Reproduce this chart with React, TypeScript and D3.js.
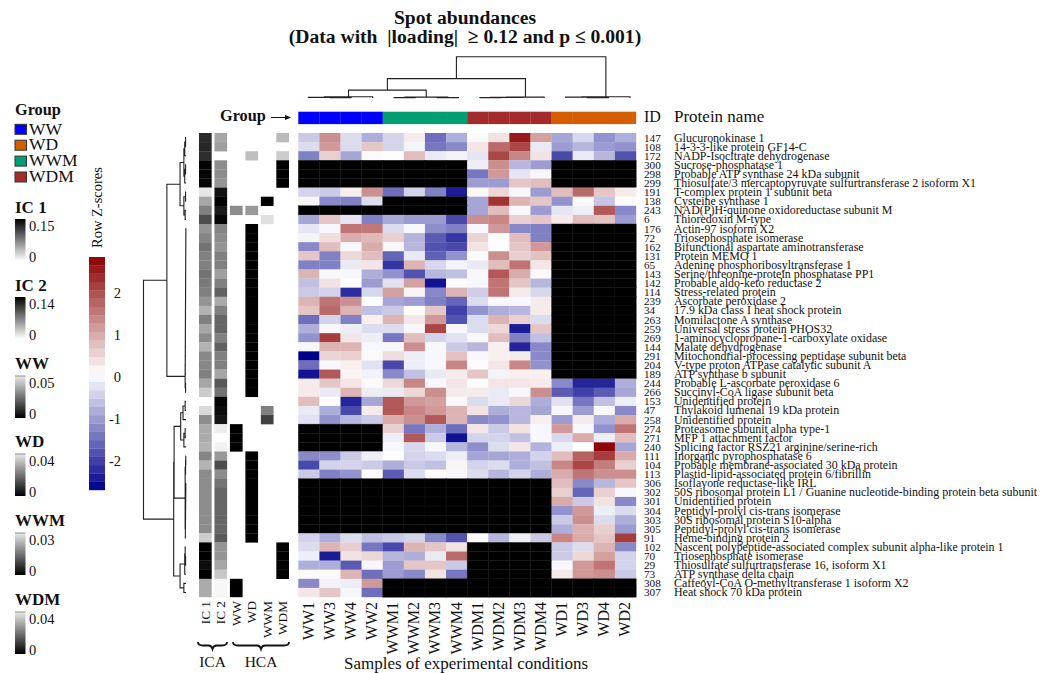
import * as d3 from "d3"

const FONT = "'Liberation Serif', serif"
const N = null

// sample columns, in heatmap order
const samples = ["WW1", "WW3", "WW4", "WW2", "WWM1", "WWM2", "WWM3", "WWM4", "WDM1", "WDM2", "WDM3", "WDM4", "WD1", "WD3", "WD4", "WD2"]
const sampleGroups = ["WW", "WW", "WW", "WW", "WWM", "WWM", "WWM", "WWM", "WDM", "WDM", "WDM", "WDM", "WD", "WD", "WD", "WD"]
const groupNames = ["WW", "WD", "WWM", "WDM"]
const groupColors = ["#0000ff", "#d55e00", "#009e73", "#a52a2a"]

const spotIds = [147, 108, 172, 300, 298, 299, 191, 138, 243, 6, 176, 72, 162, 131, 65, 143, 142, 114, 239, 34, 263, 259, 269, 144, 291, 204, 189, 244, 266, 153, 47, 258, 274, 271, 240, 111, 104, 113, 306, 302, 301, 304, 303, 305, 91, 102, 70, 29, 73, 308, 307]

const proteinNames = [
  "Glucuronokinase 1",
  "14-3-3-like protein GF14-C",
  "NADP-Isocitrate dehydrogenase",
  "Sucrose-phosphatase 1",
  "Probable ATP synthase 24 kDa subunit",
  "Thiosulfate/3 mercaptopyruvate sulfurtransferase 2 isoform X1",
  "T-complex protein 1 subunit beta",
  "Cysteine synthase 1",
  "NAD(P)H-quinone oxidoreductase subunit M",
  "Thioredoxin M-type",
  "Actin-97 isoform X2",
  "Triosephosphate isomerase",
  "Bifunctional aspartate aminotransferase",
  "Protein MEMO 1",
  "Adenine phosphoribosyltransferase 1",
  "Serine/threonine-protein phosphatase PP1",
  "Probable aldo-keto reductase 2",
  "Stress-related protein",
  "Ascorbate peroxidase 2",
  "17.9 kDa class I heat shock protein",
  "Momilactone A synthase",
  "Universal stress protein PHOS32",
  "1-aminocyclopropane-1-carboxylate oxidase",
  "Malate dehydrogenase",
  "Mitochondrial-processing peptidase subunit beta",
  "V-type proton ATPase catalytic subunit A",
  "ATP synthase b subunit",
  "Probable L-ascorbate peroxidase 6",
  "Succinyl-CoA ligase subunit beta",
  "Unidentified protein",
  "Thylakoid lumenal 19 kDa protein",
  "Unidentified protein",
  "Proteasome subunit alpha type-1",
  "MFP 1 attachment factor",
  "Splicing factor RSZ21 arginine/serine-rich",
  "Inorganic pyrophosphatase 6",
  "Probable membrane-associated 30 kDa protein",
  "Plastid-lipid-associated protein 6/fibrillin",
  "Isoflavone reductase-like IRL",
  "50S ribosomal protein L1 / Guanine nucleotide-binding protein beta subunit",
  "Unidentified protein",
  "Peptidyl-prolyl cis-trans isomerase",
  "30S ribosomal protein S10-alpha",
  "Peptidyl-prolyl cis-trans isomerase",
  "Heme-binding protein 2",
  "Nascent polypeptide-associated complex subunit alpha-like protein 1",
  "Triosephosphate isomerase",
  "Thiosulfate sulfurtransferase 16, isoform X1",
  "ATP synthase delta chain",
  "Caffeoyl-CoA O-methyltransferase 1 isoform X2",
  "Heat shock 70 kDa protein",
]

// row z-scores, null = no data (black)
const zScores = [
  [-.5, 1.3, -.3, -.8, -.4, .3, -1.5, -.8, .15, .4, 2.6, 1.1, -.9, -.35, -1.1, -.8],
  [-.3, 1.2, -.3, .7, -.4, -.05, -1.4, -1.2, .35, 1.7, 2.1, -.15, -1, -.7, -1, -1.1],
  [-1.3, .6, -.9, .15, .1, .8, -.15, -.05, -.2, 2.1, 1.4, .4, -1.9, -.15, -.7, -1.8],
  [N, N, N, N, N, N, N, N, -.1, 1.3, -.7, -1, N, N, N, N],
  [N, N, N, N, N, N, N, N, -1.4, 1.2, -.2, 0, N, N, N, N],
  [N, N, N, N, N, N, N, N, -1, -1, .7, .8, N, N, N, N],
  [-.4, -.5, .25, 1.3, -1.5, -.4, -1.3, -2.4, .15, .5, 0, -1, .8, 1.7, .7, .3],
  [.2, -1.2, -1.3, -.3, N, N, N, N, -.9, 2.3, .9, .7, -1.1, .15, -.55, .05],
  [N, N, N, N, N, N, N, N, -.9, .8, 0, -1, -.2, -.1, 1.9, -1.2],
  [-.9, .7, -.2, -1.3, -.85, -1, -1, -1.9, 1.3, 1.4, .6, .7, .3, .8, .75, -1],
  [-.2, 0, 1.6, 1.55, -.3, 0, -1.15, -1.3, 0, 1.2, -1.2, -1.3, N, N, N, N],
  [-.05, .45, 1, .85, .6, -.75, -1.7, -2.1, .55, .1, .8, -1.3, N, N, N, N],
  [-1.2, .8, 0, 1, 0, -.7, -1.8, -1.9, .4, .1, .7, 1.2, N, N, N, N],
  [.7, -1.3, .5, .8, -1.6, -.15, -1.65, -1.1, .05, 1.3, .6, .75, N, N, N, N],
  [-1.3, -1.3, -.15, .35, -2.1, .9, -.35, -.05, -.15, .8, 1.6, .35, N, N, N, N],
  [.9, 0, 0, -.8, -1.1, -1.8, -.7, -.6, 0, 1.9, 1, .15, N, N, N, N],
  [-.6, .4, .1, -1, -.25, 1.1, -2.5, .12, 0, 1.6, .7, -.7, N, N, N, N],
  [-.5, -.4, -2.2, -.35, 1.1, .2, -1.2, .9, -.45, 1.6, .3, -.35, N, N, N, N],
  [.9, 1.6, 1.3, .1, -.9, -1, -1.3, -1.6, -.3, 0, 0, .3, N, N, N, N],
  [.7, 1.7, .9, -.6, -.5, .1, .7, -2, -1.1, -.8, -.7, .3, N, N, N, N],
  [-1.5, -.4, -1.3, .25, .9, .35, 1.2, -1.8, -.3, .9, .6, -.3, N, N, N, N],
  [-.8, 0, -.1, -.3, -.3, 0, 2.1, 0, -.3, .5, -2.4, .7, N, N, N, N],
  [-1.1, 2.2, .35, -.1, -1.4, .8, -.4, -.25, 0, .8, -1.3, -.6, N, N, N, N],
  [0, .9, .9, 0, 0, 1.3, 0, -.5, -.7, .25, -2.3, -1.2, N, N, N, N],
  [-2.7, .55, .6, .15, .45, -.1, 0, .75, 0, .25, .3, -1.2, N, N, N, N],
  [-1.5, 0, .25, -.25, -1.9, -.1, 0, 1.4, .05, .35, 1.4, -1.1, N, N, N, N],
  [-2.5, 1.9, .2, -.05, -1.2, -.6, -.15, .3, .7, -.05, .25, .25, N, N, N, N],
  [.3, .7, .35, .15, .5, 1.4, 0, .35, .05, .35, .35, .3, -1.2, -2.3, -2.3, -.8],
  [.3, -.15, .9, -.1, -.15, .5, 1.3, .3, .3, -.15, 0, 1.3, -1.7, -2, -1.7, -.9],
  [.8, .1, -2.3, -.9, 1.9, 1.2, 1.1, .15, -.3, -.15, .5, -.8, -.25, -1.4, -.6, -.1],
  [-.15, -.8, -1.9, .3, 1.9, 1.4, 1.2, .9, .4, -.8, -.7, -.9, 0, -1, 0, -1.2],
  [-.25, -1.1, -.7, -.5, 1, 1.3, 1.9, .9, -1.2, -1.1, -.7, .25, -1, .3, -.8, 1],
  [N, N, N, N, .6, -1.4, -.8, -1.5, .35, -.5, .4, 0, 1.2, 0, -1.1, 1.6],
  [N, N, N, N, -.1, 1.9, -.5, -2.5, -.4, -.4, -.6, 0, -.35, 1, -.1, .8],
  [N, N, N, N, 0, -.35, 0, -.7, -1.15, -.3, .35, -.75, -.1, .1, 2.8, -.9],
  [-1.2, -1.15, -.5, -.1, .1, -.4, -.3, -.1, -.9, -.9, -.8, -.4, .8, 1.8, 2.2, 1],
  [-1.9, -.4, -.4, -.5, -.8, -.5, -.6, .2, -.4, -.3, -.8, -.6, 1.4, 2.1, 1.5, .6],
  [-.5, -1.3, -1.1, .12, -1.7, -.3, .12, 0, -.3, -.7, -.4, -.8, 1, 1.6, 1.3, 1.3],
  [N, N, N, N, N, N, N, N, N, N, N, N, .8, -1.2, -.7, .7],
  [N, N, N, N, N, N, N, N, N, N, N, N, .6, -1.6, .6, 0],
  [N, N, N, N, N, N, N, N, N, N, N, N, 1, -.5, .4, -1.2],
  [N, N, N, N, N, N, N, N, N, N, N, N, -1.1, 1.2, -.1, -.3],
  [N, N, N, N, N, N, N, N, N, N, N, N, -.5, 1.3, -.3, -.8],
  [N, N, N, N, N, N, N, N, N, N, N, N, -.8, .95, .6, -1],
  [-.4, -.8, -.3, -.6, -.5, -.4, -1.2, -1.8, .12, -.7, -.1, -.5, 1.4, 1, .7, 2.2],
  [-.3, .9, .6, -1.4, -1.9, .9, .7, .4, N, N, N, N, -.5, -.3, .9, -1.2],
  [-.1, -2.4, .4, .5, -.7, -.8, -.15, 1.7, N, N, N, N, -.5, .5, 1.1, -.4],
  [-.8, -.8, -1.7, 0, -1, .7, .7, -.5, N, N, N, N, 0, 1.2, 1.6, -.4],
  [.15, .15, .9, -1.5, -1, -1.2, .4, -1.4, N, N, N, N, .3, 1.2, 1.3, -.5],
  [-1.2, -.05, -.1, 1.2, N, N, N, N, N, N, N, N, N, N, N, N],
  [.35, .7, -.02, -1.5, N, N, N, N, N, N, N, N, N, N, N, N],
]

// side annotation columns, value = grey darkness 0..1
const annotNames = ["IC 1", "IC 2", "WW", "WD", "WWM", "WDM"]
const ic1 = [.83, .85, .82, .98, .98, .98, .1, .35, .5, .7, .42, .48, .55, .5, .5, .55, .52, .5, .42, .3, .5, .35, .45, .3, .47, .47, .5, .35, .2, N, .15, .45, .33, .33, .3, .48, .3, .45, .45, .45, .45, .45, .45, .45, .2, 1, 1, .95, 1, .33, .33]
const ic2 = [.35, .38, N, .45, .45, .42, .93, 1, .9, .98, .48, .45, .42, .5, .5, .38, .5, .62, .33, .5, .6, .6, .5, .62, .5, .5, .35, .65, .55, .98, .95, .92, .07, 0, .05, .4, .7, .45, .55, .6, .6, .6, .6, .6, .65, .42, .42, .35, .22, .03, .03]
const annWW = [N, N, N, N, N, N, N, N, .45, N, N, N, N, N, N, N, N, N, N, N, N, N, N, N, N, N, N, N, N, N, N, N, 1, 1, 1, N, N, N, N, N, N, N, N, N, N, N, N, N, N, 1, 1]
const annWD = [N, N, .25, N, N, N, N, N, .4, N, 1, 1, 1, 1, 1, 1, 1, 1, 1, 1, 1, 1, 1, 1, 1, 1, 1, 1, 1, N, N, N, N, N, N, 1, 1, 1, 1, 1, 1, 1, 1, 1, 1, N, N, N, N, N, N]
const annWWM = [N, N, N, N, N, N, N, 1, N, .12, N, N, N, N, N, N, N, N, N, N, N, N, N, N, N, N, N, N, N, N, .5, .75, N, N, N, N, N, N, N, N, N, N, N, N, N, N, N, N, N, N, N]
const annWDM = [.27, N, .2, 1, 1, 1, N, N, N, N, N, N, N, N, N, N, N, N, N, N, N, N, N, N, N, N, N, N, N, N, N, N, N, N, N, N, N, N, N, N, N, N, N, N, N, 1, 1, 1, 1, N, N]
const annotValues = [ic1, ic2, annWW, annWD, annWWM, annWDM]

// dendrograms as nested [height, left, right], leaves = position in heatmap order
const colTree = [1, [.47, [.19, [.03, [.015, 0, [.01, 1, 2]], 3], [.02, [.01, 4, 5], [.01, 6, 7]]], [.02, [.015, [.01, 8, 9], 10], 11]], [.03, [.02, 12, [.01, 13, 14]], 15]]
const rowTree = [1,
  [.45,
    [.14, [.05, [.03, [.01, 0, 1], 2], [.03, [.01, 3, 4], 5]], [.05, [.01, 6, 7], [.02, 8, 9]]],
    [.02,
      [.018, [.017, [.016, [.015, [.014, [.013, [.012, [.011, [.01, [.009, [.008, [.007, [.006, [.005, [.004, [.003, 10, 11], 12], 13], 14], 15], 16], 17], 18], 19], 20], 21], 22], 23], 24], 25], 26],
      [.01, 27, 28]]],
  [.29,
    [.28,
      [.125, [.07, [.02, 29, 30], 31], [.05, [.02, 32, 33], 34]],
      [.02, [.01, [.005, 35, 36], 37], [.015, [.012, [.01, [.008, [.006, [.004, 38, 39], 40], 41], 42], 43], 44]]],
    [.14, [.03, [.02, 45, [.01, 46, 47]], 48], [.05, 49, 50]]]]

// legend entries
const icLegends = ["IC 1", "IC 2"]
const icLegendMax = ["0.15", "0.14"]
const icLegendTop = [219, 297]
const hcaLegends = ["WW", "WD", "WWM", "WDM"]
const hcaLegendMax = ["0.05", "0.04", "0.03", "0.04"]
const hcaLegendTop = [376, 454, 533, 612]
const zTicks = [-2, -1, 0, 1, 2]

const color = d3
  .scaleLinear<string>()
  .domain([-2.69, 0.08, 2.86])
  .range(["#00008b", "#ffffff", "#8b0000"])
const grey = d3.scaleLinear<string>().domain([0, 1]).range(["#ffffff", "#000000"])

const x = d3.scaleBand().domain(samples).range([298.3, 636])
const y = d3.scaleBand<number>().domain(d3.range(spotIds.length)).range([133, 597])
const ax = d3.scaleBand().domain(annotNames).range([197.6, 290.4]).paddingInner(0.18).paddingOuter(0.09)

const colLeaf = d3.scalePoint<number>().domain(d3.range(samples.length)).range([308.3, 630])
const colHeight = d3.scaleLinear().domain([0, 1]).range([98, 56.7])
const rowHeight = d3.scaleLinear().domain([0, 1]).range([186, 143.5])
const zY = d3.scaleLinear().domain([-2.69, 2.86]).range([490, 257])

// walk a nested tree with d3.hierarchy, position = mean of children, drawn as brackets
function treePath(tree: any, leafPos: (i: number) => number, heightPos: (h: number) => number, horizontal: boolean) {
  const root = d3.hierarchy<any>(tree, (d) => (Array.isArray(d) ? d.slice(1) : null))
  const path = d3.path()
  const pt = (p: number, h: number): [number, number] => (horizontal ? [p, h] : [h, p])
  root.eachAfter((n: any) => {
    if (!n.children) {
      n.pos = leafPos(n.data)
      n.h = heightPos(0)
      return
    }
    n.pos = d3.mean(n.children, (c: any) => c.pos)
    n.h = heightPos(n.data[0])
    const [a, b] = n.children
    path.moveTo(...pt(a.pos, a.h))
    path.lineTo(...pt(a.pos, n.h))
    path.lineTo(...pt(b.pos, n.h))
    path.lineTo(...pt(b.pos, b.h))
  })
  return path.toString()
}

// curly brace opening upwards
function bracePath(x0: number, x1: number, y0: number, y1: number) {
  const m = (x0 + x1) / 2
  const mid = (y0 + y1) / 2
  const p = d3.path()
  p.moveTo(x0, y0)
  p.quadraticCurveTo(x0, mid, x0 + 5, mid)
  p.lineTo(m - 4, mid)
  p.quadraticCurveTo(m - 1, mid, m, y1)
  p.quadraticCurveTo(m + 1, mid, m + 4, mid)
  p.lineTo(x1 - 5, mid)
  p.quadraticCurveTo(x1, mid, x1, y0)
  return p.toString()
}

const zStep = (2.86 + 2.69) / 28
const zBands = d3.range(28).map((i) => -2.69 + i * zStep)

function GradientBar({ id, top, max, title, titleY }: any) {
  return (
    <g>
      <text x={15} y={titleY} fontSize={17} fontWeight="bold">{title}</text>
      <rect x={15} y={top} width={10.5} height={42} fill={`url(#${id})`} />
      <text x={29} y={top + 12} fontSize={14.5}>{max}</text>
      <text x={29} y={top + 43} fontSize={14.5}>0</text>
    </g>
  )
}

export default function App() {
  return (
    <svg
      width={1052}
      height={673}
      style={{ position: "absolute", left: 0, top: 0, background: "#fff" }}
      fontFamily={FONT}
      fill="#111"
    >
      <defs>
        <linearGradient id="grad-ic" x1="0" y1="0" x2="0" y2="1">
          <stop offset="0" stopColor="#000" />
          <stop offset="1" stopColor="#fff" />
        </linearGradient>
        <linearGradient id="grad-hca" x1="0" y1="0" x2="0" y2="1">
          <stop offset="0" stopColor="#e8e8e8" />
          <stop offset="1" stopColor="#000" />
        </linearGradient>
      </defs>

      <text x={465} y={23.5} textAnchor="middle" fontSize={19.6} fontWeight="bold">Spot abundances</text>
      <text x={465} y={43} textAnchor="middle" fontSize={19.6} fontWeight="bold" style={{ whiteSpace: "pre" }}>
        {"(Data with  |loading|  ≥ 0.12 and p ≤ 0.001)"}
      </text>

      {/* column dendrogram */}
      <path d={treePath(colTree, (i) => colLeaf(i)!, colHeight, true)} fill="none" stroke="#222" strokeWidth={1.1} />

      {/* group bar */}
      {samples.map((s, i) => (
        <rect
          key={s}
          x={x(s)}
          y={111.7}
          width={x.bandwidth() + 0.2}
          height={12.4}
          fill={groupColors[groupNames.indexOf(sampleGroups[i])]}
        />
      ))}
      <text x={220} y={121} fontSize={16.3} fontWeight="bold">Group</text>
      <line x1={271} x2={288} y1={117.5} y2={117.5} stroke="#111" strokeWidth={1} />
      <path d={d3.line()([[291, 117.5], [285, 115], [285, 120]])! + "Z"} fill="#111" />
      <text x={644} y={122} fontSize={16}>ID</text>
      <text x={674} y={122} fontSize={17}>Protein name</text>

      {/* heatmap */}
      {zScores.map((row, r) =>
        row.map((v, c) => (
          <rect
            key={`${r}-${c}`}
            x={x(samples[c])}
            y={y(r)}
            width={x.bandwidth() + 0.2}
            height={y.bandwidth() + 0.2}
            fill={v === null ? "#000" : color(v)}
            stroke={v === null ? "#1c1c1c" : "none"}
            strokeWidth={0.4}
          />
        )),
      )}

      {/* side annotations */}
      {annotValues.map((vals, c) =>
        vals.map((v, r) =>
          v === null ? null : (
            <rect
              key={`a${c}-${r}`}
              x={ax(annotNames[c])}
              y={y(r)}
              width={ax.bandwidth()}
              height={y.bandwidth() + 0.2}
              fill={grey(v)}
            />
          ),
        ),
      )}

      {/* row dendrogram */}
      <path
        d={treePath(rowTree, (i) => y(i)! + y.bandwidth() / 2, rowHeight, false)}
        fill="none"
        stroke="#222"
        strokeWidth={1.1}
      />

      {/* row labels */}
      <g fontSize={11.2}>
        {spotIds.map((id, r) => (
          <text key={r} x={644} y={y(r)! + y.bandwidth() / 2 + 4}>{id}</text>
        ))}
      </g>
      <g fontSize={11.95}>
        {proteinNames.map((name, r) => (
          <text key={r} x={674} y={y(r)! + y.bandwidth() / 2 + 4}>{name}</text>
        ))}
      </g>

      {/* column labels */}
      {samples.map((s) => {
        const cx = x(s)! + x.bandwidth() / 2 + 5
        return (
          <text key={s} transform={`translate(${cx},602) rotate(-90)`} textAnchor="end" fontSize={16}>{s}</text>
        )
      })}
      {annotNames.map((s) => {
        const cx = ax(s)! + ax.bandwidth() / 2 + 4.5
        return (
          <text key={s} transform={`translate(${cx},601) rotate(-90)`} textAnchor="end" fontSize={13.3}>{s}</text>
        )
      })}
      <text x={466} y={669} textAnchor="middle" fontSize={17}>Samples of experimental conditions</text>

      {/* braces */}
      <path d={bracePath(198, 227, 642, 649)} fill="none" stroke="#111" strokeWidth={1.8} />
      <path d={bracePath(233, 289, 642, 649)} fill="none" stroke="#111" strokeWidth={1.8} />
      <text x={212.5} y={667} textAnchor="middle" fontSize={15.5}>ICA</text>
      <text x={261} y={667} textAnchor="middle" fontSize={15.5}>HCA</text>

      {/* group legend */}
      <text x={15} y={115} fontSize={16.3} fontWeight="bold">Group</text>
      {groupNames.map((g, i) => (
        <g key={g}>
          <rect x={15} y={124.3 + i * 15.9} width={11.5} height={10} fill={groupColors[i]} stroke="#333" strokeWidth={1} />
          <text x={29} y={134.5 + i * 15.9} fontSize={17.5}>{g}</text>
        </g>
      ))}

      {/* grey ramps */}
      {icLegends.map((t, i) => (
        <GradientBar key={t} id="grad-ic" top={icLegendTop[i]} max={icLegendMax[i]} title={t} titleY={icLegendTop[i] - 6.5} />
      ))}
      {hcaLegends.map((t, i) => (
        <g key={t}>
          <GradientBar id="grad-hca" top={hcaLegendTop[i]} max={hcaLegendMax[i]} title={t} titleY={hcaLegendTop[i] - 7} />
          <line x1={15} x2={25.5} y1={hcaLegendTop[i]} y2={hcaLegendTop[i]} stroke="#777" strokeWidth={0.8} />
        </g>
      ))}

      {/* z-score ramp */}
      {zBands.map((z, i) => (
        <rect
          key={i}
          x={89}
          y={zY(z + zStep)}
          width={16}
          height={zY(z) - zY(z + zStep) + 0.2}
          fill={color(z + zStep / 2)}
        />
      ))}
      {zTicks.map((t) => (
        <text key={t} x={121} y={zY(t) + 5} textAnchor="end" fontSize={14.5}>{t}</text>
      ))}
      <text transform="translate(102,248) rotate(-90)" fontSize={14.5}>Row Z-scores</text>
    </svg>
  )
}
